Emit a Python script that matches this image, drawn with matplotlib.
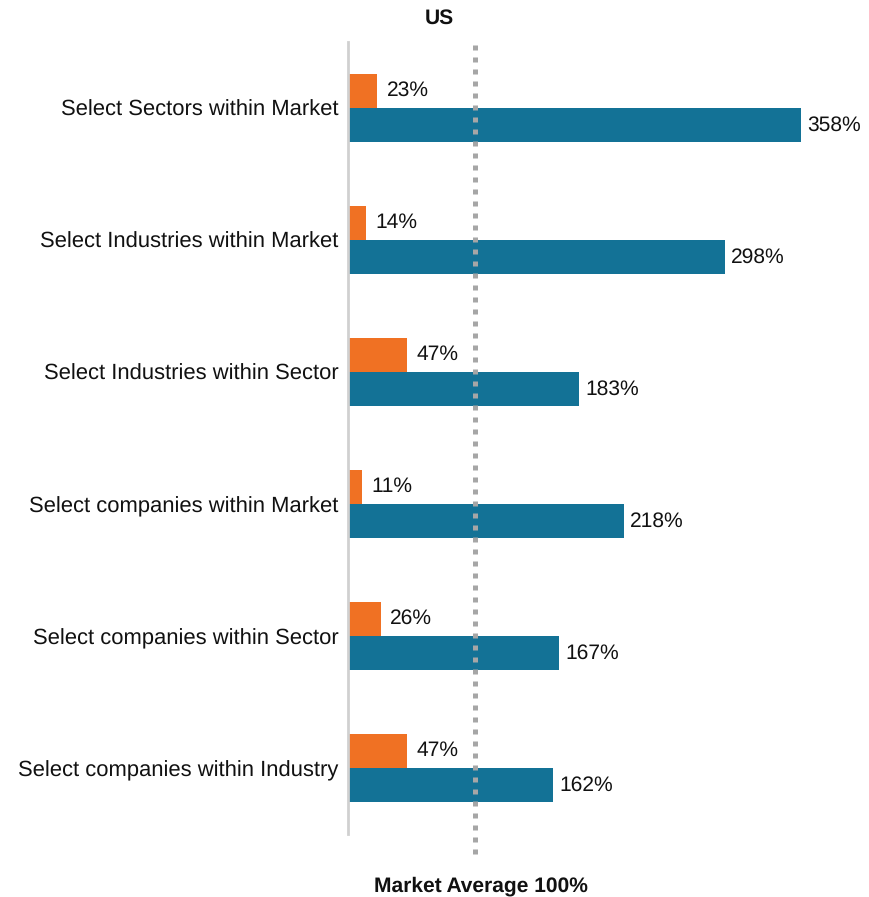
import matplotlib
matplotlib.use("Agg")
import matplotlib.pyplot as plt
import numpy as np

categories = ["Select Sectors within Market", "Select Industries within Market",
              "Select Industries within Sector", "Select companies within Market",
              "Select companies within Sector", "Select companies within Industry"]
orange_vals = [23, 14, 47, 11, 26, 47]
blue_vals = [358, 298, 183, 218, 167, 162]
market_avg = 100

plt.rcParams['font.family'] = ['Liberation Sans', 'DejaVu Sans']
plt.rcParams['text.hinting_factor'] = 1
plt.rcParams['text.hinting'] = 'no_hinting'

W, H = 869, 897
fig = plt.figure(figsize=(W/100, H/100), dpi=100)
left = 348/W
right = 867/W
top = 42
bottom = 834
ax = fig.add_axes([left, 1-bottom/H, right-left, (bottom-top)/H])

y = np.arange(len(categories))
bh = 0.26
orange = '#F07123'
blue = '#137296'
ax.barh(y - bh/2, orange_vals, height=bh, color=orange, zorder=2)
ax.barh(y + bh/2, blue_vals, height=bh, color=blue, zorder=2)

xmax = (867-348)/1.265
ax.set_xlim(0, xmax)
ax.set_ylim(5.5, -0.5)

for i, (o, b) in enumerate(zip(orange_vals, blue_vals)):
    ax.text(o + 7.5, i - bh/2, f"{o}%", va='center', ha='left', fontsize=15, color='#111111')
    ax.text(b + 5, i + bh/2, f"{b}%", va='center', ha='left', fontsize=15, color='#111111')

ax.plot([market_avg, market_avg], [-0.48, 5.69], color='#A6A6A6', lw=3.6,
        linestyle=(0, (1, 1.4)), clip_on=False, zorder=3)

ax.set_yticks(y)
ax.set_yticklabels(categories, fontsize=16, color='#111111')
ax.tick_params(axis='y', length=0, pad=7)
ax.set_xticks([])
for s in ['top', 'right', 'bottom']:
    ax.spines[s].set_visible(False)
ax.spines['left'].set_color('#D0D0D0')
ax.spines['left'].set_linewidth(2)

fig.text(439/W, 1-18/H, "US", ha='center', va='center', fontsize=15, fontweight='bold', color='#111111')
fig.text(481/W, 1-886/H, "Market Average 100%", ha='center', va='center', fontsize=15,
         fontweight='bold', color='#111111')

fig.savefig("out.png", dpi=100)
